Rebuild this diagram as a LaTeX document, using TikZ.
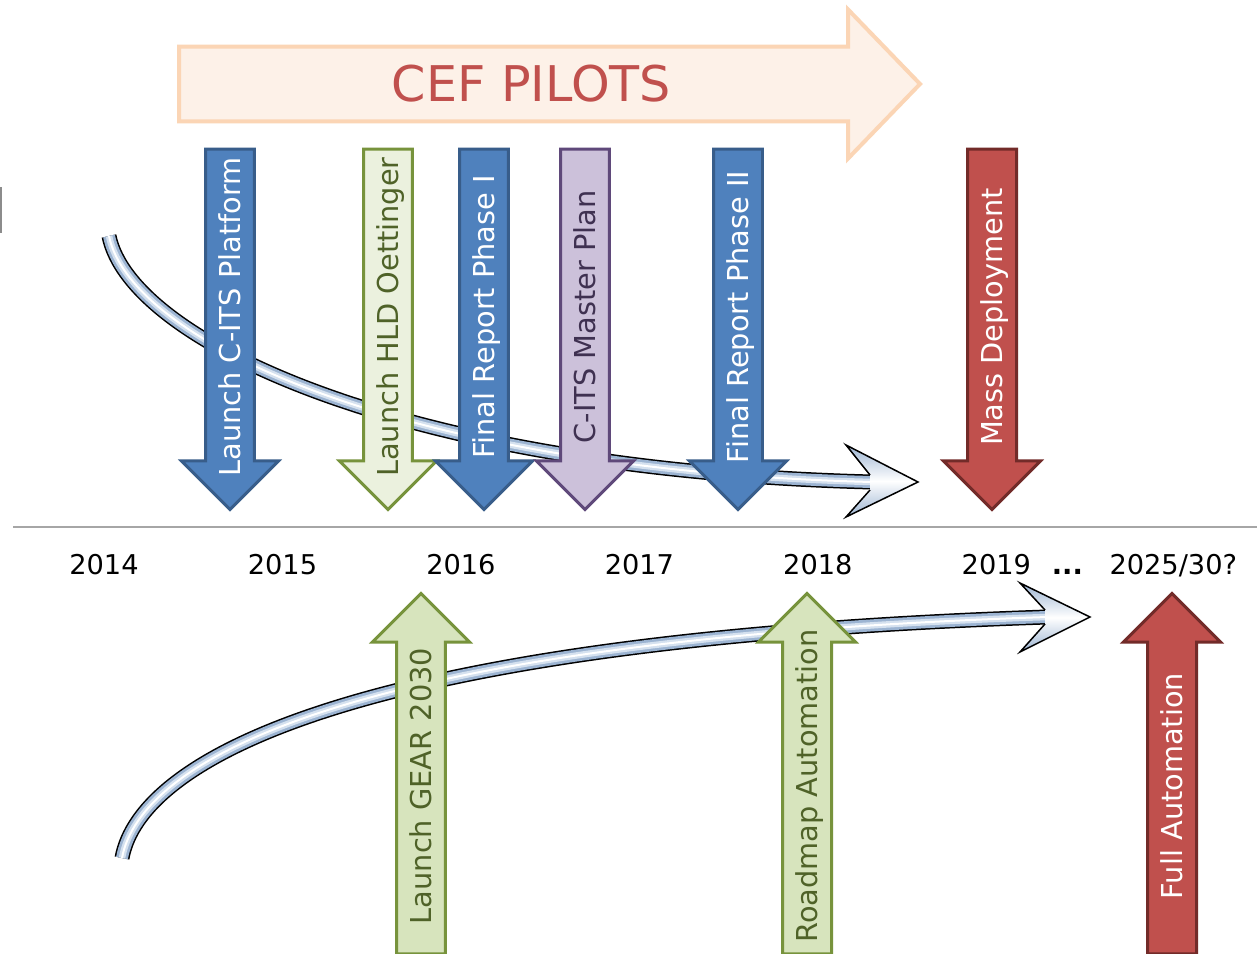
\documentclass[tikz,border=0pt]{standalone}
\usepackage{fontspec}
\setmainfont{DejaVu Sans}
\usetikzlibrary{shapes.arrows}

\definecolor{itsblue}{HTML}{4F81BD}
\definecolor{itsblueline}{HTML}{385D8A}
\definecolor{itsgreen}{HTML}{D7E4BD}
\definecolor{itsgreenpale}{HTML}{EBF1DE}
\definecolor{itsgreenline}{HTML}{77933C}
\definecolor{itsgreentext}{HTML}{4F6228}
\definecolor{itspurple}{HTML}{CCC1DA}
\definecolor{itspurpleline}{HTML}{5F497A}
\definecolor{itspurpletext}{HTML}{3F3151}
\definecolor{itsred}{HTML}{C0504D}
\definecolor{itsredline}{HTML}{722B29}
\definecolor{cefpeach}{HTML}{FDF1E8}
\definecolor{cefline}{HTML}{FBD5B5}
\definecolor{tubeblue}{HTML}{9CB4D2}
\definecolor{tubelight}{HTML}{D5E1EF}

\tikzset{every node/.style={align=center},
  arrowbox/.style={single arrow, draw, line width=0.06cm, inner xsep=0pt, inner ysep=0.249cm,
    single arrow head extend=0.48cm, minimum height=7.21cm,
    font=\fontsize{16.4}{19}\selectfont, text height=12pt, text depth=0pt},
  pointdown/.style={arrowbox, shape border rotate=180, rotate=90},
  pointup/.style={arrowbox, rotate=90},
  bluebox/.style={fill=itsblue, draw=itsblueline, text=white},
  greenbox/.style={fill=itsgreen, draw=itsgreenline, text=itsgreentext},
  palebox/.style={fill=itsgreenpale, draw=itsgreenline, text=itsgreentext},
  purplebox/.style={fill=itspurple, draw=itspurpleline, text=itspurpletext},
  redbox/.style={fill=itsred, draw=itsredline, text=white},
  year/.style={font=\fontsize{15.5}{18}\selectfont, text height=11.3pt, text depth=0pt, inner sep=0pt},
  tube/.style={line width=0.30cm, black, postaction={draw=tubeblue, line width=0.24cm},
    postaction={draw=tubelight, line width=0.13cm}, postaction={draw=white, line width=0.04cm}},
  tubehead/.style={top color=tubeblue, bottom color=tubeblue, middle color=white}}

\begin{document}
\begin{tikzpicture}[x=0.02cm, y=-0.02cm]
            \useasboundingbox (0,0) rectangle (1257,953);
            \clip (0,0) rectangle (1257,953);
            \fill [white] (0,0) rectangle (1257,953);
            \fill [black!45] (0,187) rectangle (2,233);

            % pilots banner
            \node [single arrow, fill=cefpeach, draw=cefline, line width=0.08cm, inner xsep=0pt, inner ysep=0.35cm,
                single arrow head extend=0.74cm, single arrow tip angle=92, minimum height=14.82cm,
                font=\fontsize{28}{32}\selectfont, text=itsred, text height=20.4pt, text depth=0pt] (cef) at (531.5,84) {CEF PILOTS};

            % curved tubes
            \coordinate (up-a) at (109,236);
            \coordinate (up-b) at (872,482);
            \coordinate (lo-a) at (122,858);
            \coordinate (lo-b) at (1047,617);
            \draw [tube] (up-a) .. controls (130,340) and (400,470) .. (up-b);
            \shade [tubehead] (870,475) -- (846,445) -- (918,482) -- (846,517) -- (870,490) -- cycle;
            \draw [line width=0.03cm] (870,475) -- (846,445) -- (918,482) -- (846,517) -- (870,490);
            \draw [tube] (lo-a) .. controls (140,760) and (350,640) .. (lo-b);
            \shade [tubehead] (1045,610) -- (1020,583) -- (1090,617) -- (1020,652) -- (1045,624) -- cycle;
            \draw [line width=0.03cm] (1045,610) -- (1020,583) -- (1090,617) -- (1020,652) -- (1045,624);

            % timeline
            \coordinate (t-start) at (13,527);
            \coordinate (t-end) at (1257,527);
            \draw [line width=0.04cm, black!35] (t-start) -- (t-end);
            \node [year] (y2014) at (104,565) {2014};
            \node [year] (y2015) [right of = y2014, node distance=3.57cm] {2015};
            \node [year] (y2016) [right of = y2015, node distance=3.57cm] {2016};
            \node [year] (y2017) [right of = y2016, node distance=3.57cm] {2017};
            \node [year] (y2018) [right of = y2017, node distance=3.57cm] {2018};
            \node [year] (y2019) [right of = y2018, node distance=3.57cm] {2019};
            \node [year] (dots) [right of = y2019, node distance=1.42cm] {\bfseries ...};
            \node [year] (y2030) [right of = dots, node distance=2.12cm] {2025/30?};

            % milestones above the line
            \node [pointdown, bluebox] (cits) at (230,317) {Launch C-ITS Platform};
            \node [pointdown, palebox] (hld) at (388,317) {Launch HLD Oettinger};
            \node [pointdown, bluebox] (ph1) at (484,317) {Final Report Phase I};
            \node [pointdown, purplebox] (plan) at (585,317) {C-ITS Master Plan};
            \node [pointdown, bluebox] (ph2) at (738,317) {Final Report Phase II};
            \node [pointdown, redbox] (mass) at (992,317) {Mass Deployment};

            % milestones below the line
            \node [pointup, greenbox] (gear) at (421,786) {Launch GEAR 2030};
            \node [pointup, greenbox] (road) at (807,786) {Roadmap Automation};
            \node [pointup, redbox] (full) at (1172,786) {Full Automation};
\end{tikzpicture}
\end{document}
